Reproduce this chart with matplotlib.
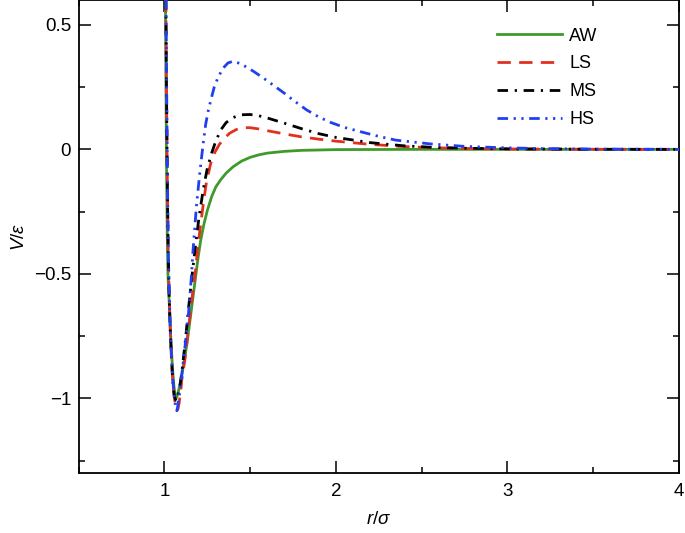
import matplotlib
matplotlib.use("Agg")
import matplotlib.pyplot as plt
from matplotlib.ticker import MultipleLocator, FuncFormatter

plt.rcParams['font.family'] = ['Liberation Sans', 'DejaVu Sans']
plt.rcParams['mathtext.fontset'] = 'custom'
plt.rcParams['mathtext.it'] = 'Liberation Sans:italic'
plt.rcParams['mathtext.rm'] = 'Liberation Sans'

# ---- data (r/sigma, V/epsilon) ----
aw_r = [1.000, 1.004, 1.008, 1.012, 1.016, 1.020, 1.025, 1.030, 1.035, 1.040, 1.045,
        1.050, 1.055, 1.060, 1.066, 1.072, 1.080, 1.090, 1.100, 1.110, 1.120, 1.135,
        1.150, 1.165, 1.180, 1.195, 1.210, 1.230, 1.250, 1.275, 1.300, 1.330, 1.360,
        1.400, 1.450, 1.500, 1.550, 1.600, 1.700, 1.800, 2.000, 2.500, 3.000, 4.000]
aw_v = [1.40, 0.80, 0.30, -0.08, -0.34, -0.50, -0.58, -0.65, -0.73, -0.80, -0.86,
        -0.91, -0.95, -0.98, -1.00, -0.995, -0.975, -0.945, -0.91, -0.87, -0.83, -0.76,
        -0.68, -0.60, -0.52, -0.44, -0.37, -0.30, -0.245, -0.19, -0.15, -0.12, -0.095,
        -0.07, -0.047, -0.032, -0.022, -0.015, -0.008, -0.004, -0.001, 0.0, 0.0, 0.0]

ls_r = [1.000, 1.006, 1.010, 1.014, 1.018, 1.022, 1.027, 1.032, 1.040, 1.048, 1.056,
        1.064, 1.072, 1.078, 1.085, 1.095, 1.100, 1.120, 1.140, 1.160, 1.180, 1.200,
        1.215, 1.230, 1.245, 1.270, 1.295, 1.320, 1.350, 1.380, 1.420, 1.460, 1.500,
        1.550, 1.600, 1.700, 1.800, 1.900, 2.000, 2.200, 2.400, 2.600, 2.800, 3.000,
        3.500, 4.000]
ls_v = [1.40, 0.80, 0.40, 0.05, -0.22, -0.42, -0.58, -0.70, -0.83, -0.93, -0.99,
        -1.03, -1.048, -1.045, -1.02, -0.97, -0.93, -0.84, -0.72, -0.60, -0.49, -0.36,
        -0.28, -0.20, -0.13, -0.055, -0.01, 0.02, 0.045, 0.065, 0.080, 0.087, 0.087,
        0.082, 0.075, 0.062, 0.050, 0.041, 0.033, 0.020, 0.011, 0.006, 0.003, 0.0015,
        0.0003, 0.0]

ms_r = [1.000, 1.006, 1.010, 1.014, 1.018, 1.022, 1.027, 1.032, 1.040, 1.048, 1.056,
        1.064, 1.070, 1.078, 1.090, 1.100, 1.120, 1.140, 1.160, 1.180, 1.200, 1.225,
        1.250, 1.275, 1.300, 1.330, 1.360, 1.400, 1.450, 1.500, 1.550, 1.600, 1.700,
        1.800, 1.900, 2.000, 2.200, 2.400, 2.600, 2.800, 3.000, 3.500, 4.000]
ms_v = [1.40, 0.80, 0.40, 0.05, -0.22, -0.42, -0.58, -0.70, -0.83, -0.93, -0.985,
        -1.005, -1.01, -0.995, -0.95, -0.90, -0.78, -0.64, -0.51, -0.39, -0.28, -0.165,
        -0.075, -0.015, 0.035, 0.080, 0.108, 0.128, 0.139, 0.140, 0.135, 0.126, 0.105,
        0.083, 0.063, 0.048, 0.027, 0.014, 0.007, 0.004, 0.002, 0.0004, 0.0]

hs_r = [1.000, 1.007, 1.011, 1.015, 1.019, 1.023, 1.028, 1.033, 1.040, 1.048, 1.056,
        1.064, 1.072, 1.078, 1.086, 1.095, 1.105, 1.120, 1.140, 1.157, 1.166, 1.176,
        1.186, 1.205, 1.225, 1.240, 1.255, 1.273, 1.290, 1.310, 1.340, 1.370, 1.400,
        1.440, 1.480, 1.520, 1.580, 1.620, 1.700, 1.750, 1.830, 1.900, 1.970, 2.050,
        2.160, 2.250, 2.350, 2.550, 2.750, 2.950, 3.200, 3.500, 4.000]
hs_v = [1.40, 0.80, 0.40, 0.05, -0.22, -0.42, -0.58, -0.70, -0.82, -0.92, -0.99,
        -1.03, -1.05, -1.03, -0.99, -0.94, -0.88, -0.79, -0.66, -0.51, -0.41, -0.32,
        -0.23, -0.10, 0.02, 0.10, 0.155, 0.205, 0.25, 0.285, 0.325, 0.347, 0.354,
        0.345, 0.330, 0.313, 0.285, 0.265, 0.225, 0.198, 0.158, 0.130, 0.108, 0.088,
        0.068, 0.052, 0.037, 0.022, 0.012, 0.007, 0.003, 0.001, 0.0]

labels = ['AW', 'LS', 'MS', 'HS']
colors = ['#3f9a2c', '#e2301f', '#000000', '#2040f0']

x_ticks = [1, 2, 3, 4]
y_ticks = [-1, -0.5, 0, 0.5]

fig = plt.figure(figsize=(6.85, 5.33), dpi=100)
ax = fig.add_axes([0.115, 0.1126, 0.876, 0.8874])

lw = 2.0
ax.plot(aw_r, aw_v, color=colors[0], lw=lw, label=labels[0], zorder=3)
ax.plot(ls_r, ls_v, color=colors[1], lw=lw, label=labels[1],
        linestyle=(0, (4.8, 3.0)), zorder=4)
ax.plot(ms_r, ms_v, color=colors[2], lw=lw, label=labels[2],
        linestyle=(0, (3.8, 2.4, 0.8, 2.4)), zorder=5)
ax.plot(hs_r, hs_v, color=colors[3], lw=lw, label=labels[3],
        linestyle=(0, (3.8, 2.0, 0.8, 2.0, 0.8, 2.0)), zorder=6)

ax.set_xlim(0.5, 4)
ax.set_ylim(-1.3, 0.6)
ax.set_xticks(x_ticks)
ax.set_yticks(y_ticks)
ax.xaxis.set_minor_locator(MultipleLocator(0.5))
ax.yaxis.set_minor_locator(MultipleLocator(0.25))

def fmt(v, pos):
    s = '%g' % v
    return s.replace('-', '\u2212')

ax.xaxis.set_major_formatter(FuncFormatter(fmt))
ax.yaxis.set_major_formatter(FuncFormatter(fmt))

ax.tick_params(which='both', direction='in', top=True, right=True, width=1.1,
               labelsize=13.5)
ax.tick_params(which='major', length=8.5)
ax.tick_params(axis='y', which='major', pad=5.5)
ax.tick_params(axis='x', which='major', pad=7)
ax.tick_params(which='minor', length=4.3)
for sp in ax.spines.values():
    sp.set_linewidth(1.3)

ax.set_xlabel(r'$r/\sigma$', fontsize=13.5, labelpad=8)
ax.set_ylabel(r'$V/\varepsilon$', fontsize=13.5, labelpad=4)

leg = ax.legend(loc='upper left', frameon=False, fontsize=13, handlelength=3.6,
                labelspacing=0.6, handletextpad=0.4, borderaxespad=0.0,
                bbox_to_anchor=(0.685, 0.957))

fig.savefig('out.png', dpi=100)
